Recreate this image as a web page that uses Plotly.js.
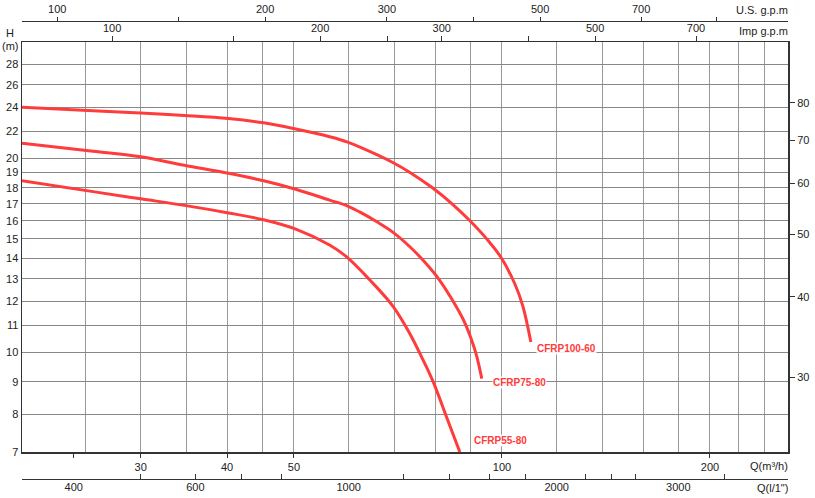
<!DOCTYPE html>
<html>
<head>
<meta charset="utf-8">
<script src="https://cdn.plot.ly/plotly-3.0.1.min.js"></script>
<style>body{margin:0;background:#fff}</style>
</head>
<body>
<div id="chart" style="width:815px;height:498px"></div>
<script>
// courbes H(Q) : Q en m3/h, H en m
const q100 = [20.2, 25.6, 30, 34.7, 40.2, 45.2, 50.3, 56.3, 59.8, 65.9, 69.5, 73.5, 79.4, 84.6, 89.8, 95.1, 99.6, 104.4, 107.2, 110.1];
const h100 = [24.0, 23.7, 23.5, 23.3, 23.05, 22.7, 22.2, 21.6, 21.19, 20.26, 19.7, 19.03, 17.98, 17.01, 16.01, 14.98, 14.05, 12.76, 11.79, 10.37];

const q75 = [20.2, 25.6, 30, 34.7, 40.2, 45.2, 50.3, 56.3, 59.8, 62.9, 65.9, 69.5, 73.5, 77.3, 81.3, 84.6, 88.1, 90.4, 91.9, 93.5];
const h75 = [21.1, 20.5, 20.1, 19.5, 18.95, 18.45, 17.9, 17.22, 16.86, 16.41, 15.94, 15.36, 14.59, 13.8, 12.92, 12.09, 11.18, 10.44, 9.87, 9.1];

const q55 = [20.2, 25.6, 30, 34.7, 40.2, 45.2, 50.5, 56.3, 59.6, 64.4, 69.6, 73.5, 76.9, 79.5, 83.1, 86.9];
const h55 = [18.45, 17.75, 17.3, 16.9, 16.45, 16.05, 15.5, 14.67, 14.06, 12.94, 11.77, 10.7, 9.72, 9.0, 7.94, 7.0];

const names = ['CFRP100-60', 'CFRP75-80', 'CFRP55-80'];

// graduations
const hTicks = [7, 8, 9, 10, 11, 12, 13, 14, 15, 16, 17, 18, 19, 20, 22, 24, 26, 28];
const ftTicks = [30, 40, 50, 60, 70, 80];
const qGrid = [25, 30, 35, 40, 45, 50, 60, 70, 80, 90, 100, 120, 140, 160, 180, 200, 220, 240];
const qTicks = [24, 30, 40, 50, 100, 200];
const qText = ['', '30', '40', '50', '100', '200'];
const lmTicks = [500, 600, 700, 800, 1200, 1400, 1600, 1800, 2200, 2400, 2600, 3500];
const lmLabels = [400, 600, 1000, 2000, 3000];
const usTicks = [100, 150, 200, 300, 400, 500, 700, 900];
const usText = ['100', '', '200', '300', '', '500', '700', ''];
const impTicks = [100, 150, 200, 250, 300, 400, 500, 700];
const impText = ['100', '', '200', '', '300', '', '500', '700'];

const W = 815, H = 498, L = 22, R = 27;
function px(x) { return (x - L) / (W - L - R); }
function py(y) { return 1 - y / H; }
function shift(r, f) { return [r[0] + Math.log10(f), r[1] + Math.log10(f)]; }

const xr = [Math.log10(20.2), Math.log10(259.4)];
const yr = [Math.log10(7), Math.log10(30.3)];

const FONT = 'Liberation Sans, Arial, sans-serif';
const tickfont = { family: FONT, size: 11, color: '#222' };
const red = '#ff3b3b';

const series = [[q100, h100], [q75, h75], [q55, h55]];
const data = series.map(s => ({
  x: s[0], y: s[1], mode: 'lines', xaxis: 'x', yaxis: 'y',
  line: { color: red, width: 3, shape: 'spline', smoothing: 1 },
  hoverinfo: 'skip', showlegend: false
}));

// traces vides pour que les axes secondaires soient dessinés
[['x2', 'y'], ['x3', 'y'], ['x4', 'y'], ['x5', 'y'], ['x6', 'y'], ['x', 'y2']].forEach(a => {
  data.push({ x: [], y: [], xaxis: a[0], yaxis: a[1], mode: 'lines', hoverinfo: 'skip', showlegend: false });
});

// étiquettes au bout des courbes
const shifts = [[5, -6], [10, -4], [13, 12]];
const annotations = series.map((s, i) => ({
  x: Math.log10(s[0][s[0].length - 1]), y: Math.log10(s[1][s[1].length - 1]),
  xref: 'x', yref: 'y', xanchor: 'left', yanchor: 'middle',
  xshift: shifts[i][0], yshift: shifts[i][1], showarrow: false,
  text: '<b>' + names[i] + '</b>', bgcolor: 'rgba(255,255,255,0.9)', borderpad: 0,
  font: { family: FONT, size: 10, color: red }
}));

function label(text, x, y, anchor) {
  return { text: text, xref: 'paper', yref: 'paper', x: px(x), y: py(y),
           xanchor: anchor, yanchor: 'middle', showarrow: false, font: tickfont };
}
annotations.push(label('H', 10, 33, 'center'));
annotations.push(label('(m)', 10, 46, 'center'));
annotations.push(label('U.S. g.p.m', 790, 10, 'right'));
annotations.push(label('Imp g.p.m', 790, 31, 'right'));
annotations.push(label('Q(m³/h)', 790, 466, 'right'));
annotations.push(label('Q(l/1")', 790, 488, 'right'));

const axLine = '#333';
const layout = {
  width: W, height: H,
  margin: { l: L, r: R, t: 0, b: 0 },
  paper_bgcolor: '#fff', plot_bgcolor: '#fff',
  showlegend: false,
  font: { family: FONT, size: 11, color: '#222' },
  xaxis: { type: 'log', range: xr, domain: [0, 1], anchor: 'y', tickvals: qGrid,
           showticklabels: false, ticks: '', showgrid: true, gridcolor: '#999', gridwidth: 1,
           showline: true, linecolor: axLine, linewidth: 1.5, mirror: true, zeroline: false },
  xaxis2: { type: 'log', range: xr, overlaying: 'x', anchor: 'y', side: 'bottom',
            tickvals: qTicks, ticktext: qText, ticks: 'outside', ticklen: 5, tickcolor: axLine,
            showgrid: false, showline: false, zeroline: false, tickfont: tickfont },
  xaxis3: { type: 'log', range: shift(xr, 1000 / 60), overlaying: 'x', anchor: 'free', position: py(479),
            side: 'bottom', tickvals: lmTicks, showticklabels: false, ticks: 'inside', ticklen: 5,
            tickcolor: axLine, showline: true, linecolor: axLine, linewidth: 1, showgrid: false, zeroline: false },
  xaxis4: { type: 'log', range: shift(xr, 1000 / 60), overlaying: 'x', anchor: 'free', position: py(479),
            side: 'bottom', tickvals: lmLabels, ticks: '', showline: false, showgrid: false,
            zeroline: false, tickfont: tickfont },
  xaxis5: { type: 'log', range: shift(xr, 4.4029), overlaying: 'x', anchor: 'free', position: py(21),
            side: 'top', tickvals: usTicks, ticktext: usText, ticks: 'outside', ticklen: 4, tickcolor: axLine,
            showline: true, linecolor: axLine, linewidth: 1, showgrid: false, zeroline: false, tickfont: tickfont },
  xaxis6: { type: 'log', range: shift(xr, 3.6662), overlaying: 'x', anchor: 'y', side: 'top',
            tickvals: impTicks, ticktext: impText, ticks: 'outside', ticklen: 5, tickcolor: axLine,
            showline: false, showgrid: false, zeroline: false, tickfont: tickfont },
  yaxis: { type: 'log', range: yr, domain: [py(452), py(42)], anchor: 'x', tickvals: hTicks,
           ticks: '', showgrid: true, gridcolor: '#888', gridwidth: 1, showline: true, linecolor: axLine,
           linewidth: 1.5, mirror: true, zeroline: false, tickfont: tickfont },
  yaxis2: { type: 'log', range: shift(yr, 3.2808), overlaying: 'y', anchor: 'x', side: 'right',
            tickvals: ftTicks, ticks: 'outside', ticklen: 6, tickcolor: axLine, showgrid: false,
            showline: false, zeroline: false, tickfont: tickfont },
  annotations: annotations
};

Plotly.newPlot('chart', data, layout, { displayModeBar: false, staticPlot: true });
</script>
</body>
</html>
